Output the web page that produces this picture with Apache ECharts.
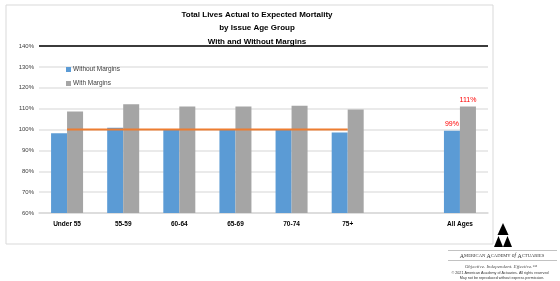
<!DOCTYPE html>
<html>
<head>
<meta charset="utf-8">
<script src="https://cdn.jsdelivr.net/npm/echarts@6/dist/echarts.min.js"></script>
<style>
  html, body { margin: 0; padding: 0; background: #fff; }
  #chart { width: 560px; height: 281px; }
</style>
</head>
<body>
<div id="chart"></div>
<script>
const categories = ['Under 55', '55-59', '60-64', '65-69', '70-74', '75+', '', 'All Ages'];
const withoutMargins = [98.2, 100.8, 99.9, 100, 100, 98.6, null, 99.4];
const withMargins = [108.6, 112.1, 111, 111, 111.4, 109.6, null, 111];
const expected = [100, 100, 100, 100, 100, 100, null, null];
const yTicks = {min: 60, max: 140, step: 10};

const font = '"Liberation Sans Narrow", "Liberation Sans", sans-serif';
const serif = '"Liberation Serif", serif';
const labelIdx = categories.length - 1;

// only the All Ages bars carry a value label
const withLabels = (vals, fmt) => vals.map((v, i) => i === labelIdx ? {
    value: v,
    label: {show: true, position: 'top', distance: 3, color: '#ff0000', fontSize: 7,
        fontFamily: font, formatter: () => fmt(v)},
} : v);

const chart = echarts.init(document.getElementById('chart'), null, {renderer: 'canvas'});
chart.setOption({
    animation: false,
    backgroundColor: '#fff',
    title: {
        text: 'Total Lives Actual to Expected Mortality\nby Issue Age Group\nWith and Without Margins',
        left: 252,
        textAlign: 'center',
        top: 3,
        textStyle: {fontSize: 8, fontWeight: 'bold', color: '#000', fontFamily: font, lineHeight: 13.5},
    },
    legend: {
        data: ['Without Margins', 'With Margins'],
        orient: 'vertical',
        left: 61,
        top: 61,
        itemWidth: 5,
        itemHeight: 5,
        itemGap: 7,
        icon: 'rect',
        textStyle: {fontSize: 6.5, color: '#404040', fontFamily: font, padding: [0, 0, 0, -3]},
    },
    grid: {left: 39, right: 72, top: 46, bottom: 68},
    xAxis: {
        type: 'category',
        data: categories,
        axisTick: {show: false},
        axisLine: {lineStyle: {color: '#d9d9d9', width: 1.5}},
        axisLabel: {fontSize: 6.5, fontWeight: 'bold', color: '#000', fontFamily: font, margin: 8},
    },
    yAxis: {
        type: 'value',
        min: yTicks.min,
        max: yTicks.max,
        interval: yTicks.step,
        axisLabel: {formatter: '{value}%', fontSize: 6, color: '#404040', fontFamily: font, margin: 5},
        splitLine: {lineStyle: {color: '#e3e3e3', width: 1.5}},
        axisLine: {show: false},
        axisTick: {show: false},
    },
    series: [
        {
            name: 'Without Margins',
            type: 'bar',
            data: withLabels(withoutMargins, v => Math.floor(v) + '%'),
            itemStyle: {color: '#5b9bd5'},
            barWidth: 16,
            barGap: '0%',
            markLine: {
                silent: true,
                symbol: 'none',
                label: {show: false},
                lineStyle: {color: '#000', width: 1.5, type: 'solid'},
                data: [{yAxis: 140}],
            },
        },
        {
            name: 'With Margins',
            type: 'bar',
            data: withLabels(withMargins, v => Math.round(v) + '%'),
            itemStyle: {color: '#a5a5a5'},
            barWidth: 16,
            barGap: '0%',
        },
        {
            name: 'Expected',
            type: 'line',
            data: expected,
            symbol: 'none',
            lineStyle: {color: '#ed7d31', width: 2},
            z: 5,
        },
    ],
    graphic: [
        {type: 'rect', shape: {x: 6, y: 5, width: 487, height: 239}, style: {fill: 'none', stroke: '#d9d9d9', lineWidth: 1}, silent: true},
        // academy logo
        {type: 'polygon', shape: {points: [[503, 223], [497.5, 235], [508.5, 235]]}, style: {fill: '#000'}},
        {type: 'polygon', shape: {points: [[498.5, 236], [494, 247], [503, 247]]}, style: {fill: '#000'}},
        {type: 'polygon', shape: {points: [[507.5, 236], [503, 247], [512, 247]]}, style: {fill: '#000'}},
        {type: 'line', shape: {x1: 448, y1: 250.5, x2: 557, y2: 250.5}, style: {stroke: '#999', lineWidth: 0.6}},
        {type: 'text', x: 502, y: 256, style: {
            text: '{c|A}{s|MERICAN }{c|A}{s|CADEMY }{i|of }{c|A}{s|CTUARIES}',
            rich: {
                c: {fontSize: 6, fontFamily: serif, fill: '#333'},
                s: {fontSize: 4.6, fontFamily: serif, fill: '#333'},
                i: {fontSize: 5.5, fontFamily: serif, fontStyle: 'italic', fill: '#333'},
            },
            align: 'center', verticalAlign: 'middle'}},
        {type: 'line', shape: {x1: 448, y1: 260.5, x2: 557, y2: 260.5}, style: {stroke: '#999', lineWidth: 0.6}},
        {type: 'text', x: 501, y: 267, style: {text: 'Objective. Independent. Effective.\u2122', fontSize: 5, fontStyle: 'italic', fontFamily: serif, fill: '#555', align: 'center', verticalAlign: 'middle'}},
        {type: 'text', x: 500, y: 272.5, style: {text: '\u00a9 2021 American Academy of Actuaries. All rights reserved', fontSize: 3.7, fontFamily: font, fill: '#333', align: 'center', verticalAlign: 'middle'}},
        {type: 'text', x: 502, y: 277.5, style: {text: 'May not be reproduced without express permission.', fontSize: 3.7, fontFamily: font, fill: '#333', align: 'center', verticalAlign: 'middle'}},
    ],
});
</script>
</body>
</html>
